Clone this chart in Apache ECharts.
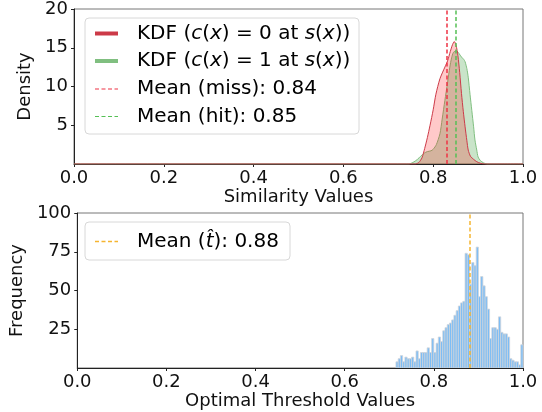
<!DOCTYPE html>
<html><head><meta charset="utf-8">
<script src="https://cdn.jsdelivr.net/npm/echarts@6/dist/echarts.min.js"></script>
<style>html,body{margin:0;padding:0;background:#fff}#c{width:542px;height:412px}</style>
</head><body><div id="c"></div>
<script>
// ---- data ----
const xTicks = [0, 0.2, 0.4, 0.6, 0.8, 1.0];
const densityTicks = [5, 10, 15, 20];
const freqTicks = [25, 50, 75, 100];

const kdeMissX = [0, 0.76, 0.768, 0.775, 0.781, 0.787, 0.793, 0.800, 0.806, 0.815, 0.826, 0.832, 0.838, 0.843, 0.847, 0.851, 0.855, 0.859, 0.863, 0.867, 0.871, 0.875, 0.878, 0.883, 0.890, 0.897, 0.905, 0.915, 1];
const kdeMissY = [0, 0, 0.2, 0.8, 2.0, 3.4, 5.0, 7.0, 9.0, 11.0, 12.5, 13.3, 14.5, 15.4, 15.8, 15.3, 14.0, 11.8, 9.1, 6.8, 4.8, 3.0, 1.8, 1.0, 0.6, 0.3, 0.1, 0, 0];

const kdeHitX = [0, 0.745, 0.755, 0.765, 0.772, 0.780, 0.787, 0.795, 0.800, 0.807, 0.815, 0.820, 0.826, 0.832, 0.837, 0.841, 0.845, 0.852, 0.857, 0.863, 0.868, 0.871, 0.875, 0.878, 0.882, 0.886, 0.890, 0.893, 0.897, 0.900, 0.905, 0.912, 0.920, 1];
const kdeHitY = [0, 0, 0.2, 0.6, 1.0, 1.4, 1.6, 1.7, 1.9, 2.5, 3.9, 5.8, 8.2, 10.5, 12.5, 13.7, 14.4, 14.6, 14.3, 13.8, 13.5, 13.2, 12.3, 11.2, 9.0, 6.9, 4.8, 3.1, 1.8, 0.9, 0.45, 0.15, 0, 0];

const meanMiss = 0.835;
const meanHit = 0.852;
const meanT = 0.879;

const histStart = 0.715;
const histBinWidth = 0.005;
const histCounts = [4, 6, 8, 4, 7, 6, 6, 7, 4, 11, 6, 10, 10, 10, 13, 10, 19, 10, 16, 20, 17, 24, 26, 28, 29, 31, 34, 37, 40, 42, 43, 74, 73, 54, 68, 66, 78, 46, 59, 53, 46, 38, 19, 26, 26, 25, 33, 23, 22, 22, 20, 6, 5, 4, 4, 2, 15];

const legendTopLabels = [
  '{n|KDF (}{i|c}{n|(}{i|x}{n|) = 0 at }{i|s}{n|(}{i|x}{n|))}',
  '{n|KDF (}{i|c}{n|(}{i|x}{n|) = 1 at }{i|s}{n|(}{i|x}{n|))}',
  '{n|Mean (miss): 0.84}',
  '{n|Mean (hit): 0.85}'
];
const legendBottomLabel = '{n|Mean (}{i|t\u0302}{n|): 0.88}';

// ---- styles ----
const FONT = 'DejaVu Sans';
const redLine = '#cc3a48', redFill = 'rgba(255,0,0,0.3)';
const greenLine = '#80bf80', greenFill = 'rgba(0,128,0,0.3)';
const redDash = '#ee3344', greenDash = '#55c055';
const orange = '#f5b530';
const barFill = '#7dbdf5', barEdge = '#cfd4da';

const zip = (xs, ys) => xs.map((x, i) => [x, ys[i]]);
const richText = { n: { fontFamily: FONT, fontSize: 20, color: '#111' }, i: { fontFamily: FONT, fontSize: 20, fontStyle: 'italic', color: '#111' } };

function xAxisDef(gridIndex, name, gap) {
  return {
    type: 'value', gridIndex, min: 0, max: 1, interval: 0.2,
    name, nameLocation: 'middle', nameGap: gap,
    nameTextStyle: { fontFamily: FONT, fontSize: 18, color: '#111' },
    axisLine: { show: true, lineStyle: { color: '#222', width: 1 } },
    axisTick: { show: true, length: 3, lineStyle: { color: '#222' }, customValues: xTicks },
    axisLabel: { fontFamily: FONT, fontSize: 18, color: '#111', margin: 5, customValues: xTicks, formatter: v => v.toFixed(1) },
    splitLine: { show: false }
  };
}
function yAxisDef(gridIndex, name, max, interval, ticks, gap) {
  return {
    type: 'value', gridIndex, min: 0, max, interval,
    name, nameLocation: 'middle', nameGap: gap,
    nameTextStyle: { fontFamily: FONT, fontSize: 18, color: '#111' },
    axisLine: { show: true, lineStyle: { color: '#222', width: 1 } },
    axisTick: { show: true, length: 3, lineStyle: { color: '#222' }, customValues: ticks },
    axisLabel: { fontFamily: FONT, fontSize: 18, color: '#111', margin: 6, customValues: ticks },
    splitLine: { show: false }
  };
}
function meanLine(v, color, width) {
  return { silent: true, symbol: 'none', label: { show: false }, animation: false,
    emphasis: { disabled: true }, z: 10,
    lineStyle: { color, width, type: [4, 2.5], opacity: 1 }, data: [{ xAxis: v }] };
}

function legendGroup(x, y, w, h, items) {
  const children = [{ type: 'rect', shape: { x: 0, y: 0, width: w, height: h, r: 4 },
    style: { fill: 'rgba(255,255,255,0.8)', stroke: '#d8d8d8', lineWidth: 1 } }];
  items.forEach(it => {
    children.push({ type: 'line', shape: { x1: 10, y1: it.y, x2: 33, y2: it.y },
      style: { stroke: it.color, lineWidth: it.width, lineDash: it.dash || null } });
    children.push({ type: 'text', x: 52, y: it.y, style: { text: it.label, rich: richText, verticalAlign: 'middle', align: 'left' } });
  });
  return { type: 'group', x, y, children };
}

const chart = echarts.init(document.getElementById('c'), null, { renderer: 'canvas' });
chart.setOption({
  animation: false,
  backgroundColor: '#fff',
  grid: [
    { left: 74, top: 8, width: 449, height: 156, show: true, borderColor: '#777', borderWidth: 1, backgroundColor: 'transparent' },
    { left: 74, top: 213, width: 449, height: 155, show: true, borderColor: '#777', borderWidth: 1, backgroundColor: 'transparent' }
  ],
  xAxis: [xAxisDef(0, 'Similarity Values', 23), xAxisDef(1, 'Optimal Threshold Values', 23)],
  yAxis: [yAxisDef(0, 'Density', 20, 5, densityTicks, 30), yAxisDef(1, 'Frequency', 100, 25, freqTicks, 46)],
  series: [
    { type: 'line', name: 'hit', xAxisIndex: 0, yAxisIndex: 0, data: zip(kdeHitX, kdeHitY), smooth: 0.25, showSymbol: false,
      lineStyle: { color: greenLine, width: 1 }, areaStyle: { color: greenFill, origin: 'start' }, z: 2,
      markLine: meanLine(meanHit, greenDash, 1.5) },
    { type: 'line', name: 'miss', xAxisIndex: 0, yAxisIndex: 0, data: zip(kdeMissX, kdeMissY), smooth: 0.25, showSymbol: false,
      lineStyle: { color: redLine, width: 1 }, areaStyle: { color: redFill, origin: 'start' }, z: 3,
      markLine: meanLine(meanMiss, redDash, 1.5) },
    { type: 'custom', xAxisIndex: 1, yAxisIndex: 1, clip: true,
      data: histCounts.map((c, i) => [histStart + i * histBinWidth, histStart + (i + 1) * histBinWidth, c]),
      encode: { x: [0, 1], y: 2 },
      renderItem: (params, api) => {
        const p0 = api.coord([api.value(0), api.value(2)]);
        const p1 = api.coord([api.value(1), 0]);
        return { type: 'rect', shape: { x: p0[0], y: p0[1], width: p1[0] - p0[0], height: p1[1] - p0[1] },
          style: { fill: barFill, stroke: barEdge, lineWidth: 0.8 } };
      },
      markLine: meanLine(meanT, orange, 1.5), z: 2 }
  ],
  graphic: [
    legendGroup(85, 18, 274, 116, [
      { y: 15.5, color: redLine, width: 4, label: legendTopLabels[0] },
      { y: 43, color: greenLine, width: 4, label: legendTopLabels[1] },
      { y: 71, color: redDash, width: 1.2, dash: [4, 2.5], label: legendTopLabels[2] },
      { y: 98.5, color: greenDash, width: 1.2, dash: [4, 2.5], label: legendTopLabels[3] }
    ]),
    legendGroup(85, 222, 205, 38, [
      { y: 19.5, color: orange, width: 1.5, dash: [4, 2.5], label: legendBottomLabel }
    ])
  ]
});
</script></body></html>
